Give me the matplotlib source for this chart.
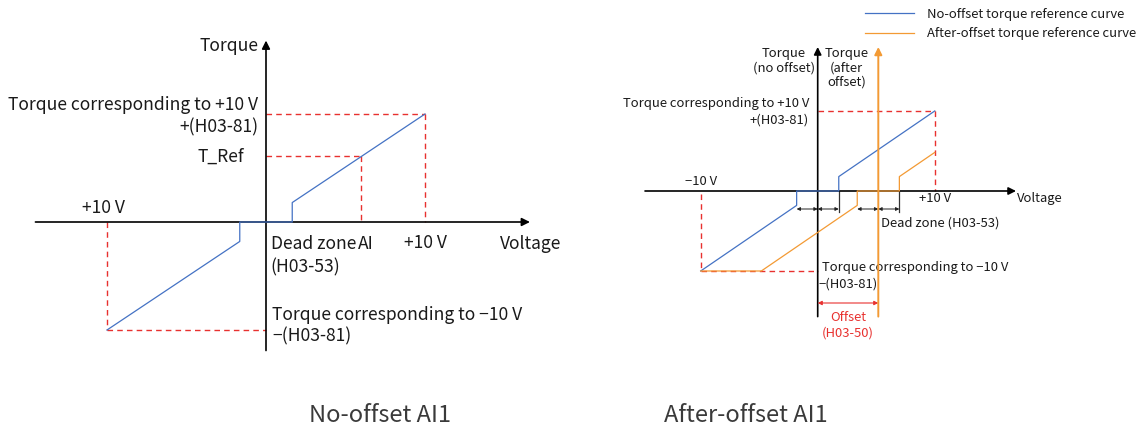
import numpy as np
import matplotlib
matplotlib.use("Agg")
from matplotlib import pyplot as plt

plt.rcParams['font.family'] = ['Noto Sans CJK SC', 'DejaVu Sans']

# diagram values (voltage in V, torque normalised to the +10 V torque)
v_max = 10.0
dead_zone_left = 1.65       # half width of dead zone, no-offset panel
jump_left = 0.18
ai_value = 6.0
dead_zone_right = 1.8
jump_right = 0.18
offset = 5.18

blue = '#4472C4'
orange = '#F39A34'
red = '#E8312F'
ink = '#1a1a1a'

W, H = 1147, 437
fig = plt.figure(figsize=(W / 100, H / 100), dpi=100)


def panel(ox, oy, sx, sy, xlim, ylim):
    # axes whose data origin sits at pixel (ox, oy), sx px per V, sy px per torque unit
    left = (ox + xlim[0] * sx) / W
    width = (xlim[1] - xlim[0]) * sx / W
    bottom = 1 - (oy - ylim[0] * sy) / H
    height = (ylim[1] - ylim[0]) * sy / H
    ax = fig.add_axes([left, bottom, width, height])
    ax.set_xlim(*xlim)
    ax.set_ylim(*ylim)
    ax.axis('off')
    return ax


def arrow(ax, p0, p1, color='k', lw=1.2, ms=12, style='-|>', z=5):
    ax.annotate('', xy=p1, xytext=p0,
                arrowprops=dict(arrowstyle=style, color=color, lw=lw, mutation_scale=ms,
                                shrinkA=0, shrinkB=0), zorder=z)


def curve(dz, t0):
    v = np.array([-v_max, -dz, -dz, dz, dz, v_max])
    t = np.array([-1, -t0, 0, 0, t0, 1])
    return v, t


dash = dict(color=red, lw=1.0, ls=(0, (4, 3)), zorder=1)

# ---------------- left panel: no offset ----------------
ax = panel(266, 222, 15.9, 108, (-16.5, 20), (-1.3, 1.9))
v, t = curve(dead_zone_left, jump_left)
t_ref = np.interp(ai_value, v[4:], t[4:])
ax.plot([0, v_max], [1, 1], **dash)
ax.plot([v_max, v_max], [1, 0], **dash)
ax.plot([0, ai_value], [t_ref, t_ref], **dash)
ax.plot([ai_value, ai_value], [t_ref, 0], **dash)
ax.plot([-v_max, -v_max], [0, -1], **dash)
ax.plot([-v_max, 0], [-1, -1], **dash)
arrow(ax, (-14.5, 0), (16.6, 0))
arrow(ax, (0, -1.19), (0, 1.68))
ax.plot(v, t, color=blue, lw=0.9, zorder=6)

fs = 12.6
ax.text(-0.5, 1.63, 'Torque', ha='right', va='center', fontsize=fs, color=ink)
ax.text(-0.5, 1.08, 'Torque corresponding to +10 V', ha='right', va='center', fontsize=fs, color=ink)
ax.text(-0.5, 0.88, '+(H03-81)', ha='right', va='center', fontsize=fs, color=ink)
ax.text(-1.4, t_ref, 'T_Ref', ha='right', va='center', fontsize=fs, color=ink)
ax.text(-10.25, 0.13, '+10 V', ha='center', va='center', fontsize=fs, color=ink)
ax.text(0.3, -0.2, 'Dead zone', ha='left', va='center', fontsize=fs, color=ink)
ax.text(0.3, -0.42, '(H03-53)', ha='left', va='center', fontsize=fs, color=ink)
ax.text(ai_value + 0.3, -0.2, 'AI', ha='center', va='center', fontsize=fs, color=ink)
ax.text(v_max, -0.19, '+10 V', ha='center', va='center', fontsize=fs, color=ink)
ax.text(14.7, -0.2, 'Voltage', ha='left', va='center', fontsize=fs, color=ink)
ax.text(0.38, -0.86, 'Torque corresponding to \u221210 V', ha='left', va='center', fontsize=fs, color=ink)
ax.text(0.38, -1.06, '\u2212(H03-81)', ha='left', va='center', fontsize=fs, color=ink)

# ---------------- right panel: after offset ----------------
ax = panel(817.7, 191, 11.7, 80, (-16, 28), (-2.1, 2.4))
v, t = curve(dead_zone_right, jump_right)
# after-offset curve: shifted right, held at -1 below -10 V and cut at +10 V
vo = np.concatenate([[-v_max], v[:-1] + offset, [v_max]])
to = np.concatenate([[-1], t[:-1], [np.interp(v_max - offset, v[4:], t[4:])]])
ax.plot([0, v_max], [1, 1], **dash)
ax.plot([v_max, v_max], [1, 0], **dash)
ax.plot([-v_max, -v_max], [-0.04, -1], **dash)
ax.plot([-v_max, 0], [-1, -1], **dash)
arrow(ax, (-14.76, 0), (16.95, 0), ms=11)
arrow(ax, (0, -1.57), (0, 1.80), ms=11)
ax.plot(v, t, color=blue, lw=0.9, zorder=6, label='No-offset torque reference curve')
ax.plot(vo, to, color=orange, lw=0.9, zorder=6, label='After-offset torque reference curve')
arrow(ax, (offset, -1.57), (offset, 1.80), color=orange, lw=1.4, ms=11, z=7)

# dead zone dimension marks
for c in (0, offset):
    ax.plot([c + dead_zone_right] * 2, [0, -0.26], color='#333333', lw=0.9, zorder=4)
    arrow(ax, (c - dead_zone_right, -0.225), (c, -0.225), lw=0.7, ms=5, style='<|-|>', color='#222222')
    arrow(ax, (c, -0.225), (c + dead_zone_right, -0.225), lw=0.7, ms=5, style='<|-|>', color='#222222')
arrow(ax, (0, -1.4), (offset, -1.4), color=red, lw=0.8, ms=6, style='<|-|>')

fs = 9.4
ax.text(-2.88, 1.80, 'Torque\n(no offset)', ha='center', va='top', fontsize=fs, color=ink, linespacing=1.13)
ax.text(2.48, 1.80, 'Torque\n(after\noffset)', ha='center', va='top', fontsize=fs, color=ink, linespacing=1.13)
ax.text(-0.74, 1.10, 'Torque corresponding to +10 V', ha='right', va='center', fontsize=fs, color=ink)
ax.text(-0.74, 0.89, '+(H03-81)', ha='right', va='center', fontsize=fs, color=ink)
ax.text(-10.0, 0.116, '\u221210 V', ha='center', va='center', fontsize=fs, color=ink)
ax.text(10.04, -0.1, '+10 V', ha='center', va='center', fontsize=fs, color=ink)
ax.text(17.06, -0.09, 'Voltage', ha='left', va='center', fontsize=fs, color=ink)
ax.text(5.38, -0.4, 'Dead zone (H03-53)', ha='left', va='center', fontsize=fs, color=ink)
ax.text(0.39, -0.96, 'Torque corresponding to \u221210 V', ha='left', va='center', fontsize=fs, color=ink)
ax.text(0.11, -1.16, '\u2212(H03-81)', ha='left', va='center', fontsize=fs, color=ink)
ax.text(offset / 2, -1.58, 'Offset', ha='center', va='center', fontsize=fs, color=red)
ax.text(offset / 2, -1.77, '(H03-50)', ha='center', va='center', fontsize=fs, color=red)

ax.legend(loc='upper left', bbox_to_anchor=(865 / W, 1 - 8 / H), bbox_transform=fig.transFigure,
          frameon=False, fontsize=fs, handlelength=3.75, handletextpad=1.0, labelspacing=0.47,
          borderpad=0, borderaxespad=0, labelcolor=ink)

fig.text(380 / W, 1 - 416 / H, 'No-offset AI1', ha='center', va='center', fontsize=17, color='#3a3a3a')
fig.text(746 / W, 1 - 416 / H, 'After-offset AI1', ha='center', va='center', fontsize=17, color='#3a3a3a')

fig.savefig('out.png', dpi=100)
